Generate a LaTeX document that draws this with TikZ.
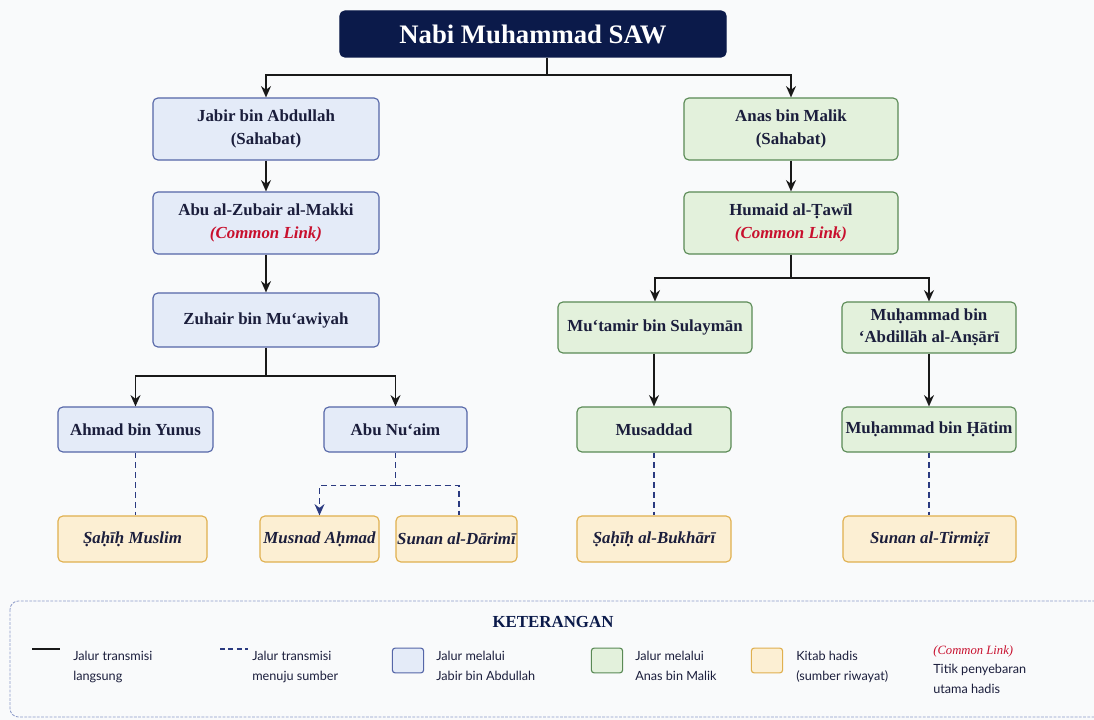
\documentclass[tikz,border=0pt]{standalone}
\usepackage{fontspec}
\setmainfont{Liberation Serif}
\newfontfamily\legendfont{Lato}
\usetikzlibrary{positioning,calc,arrows.meta}

\definecolor{pagebg}{HTML}{F9FAFB}
\definecolor{navy}{HTML}{0B1A4A}
\definecolor{inktext}{HTML}{1B1E3C}
\definecolor{clred}{HTML}{C8102E}
\definecolor{blueFill}{HTML}{E4EBF8}
\definecolor{blueLine}{HTML}{5566A8}
\definecolor{greenFill}{HTML}{E3F1DC}
\definecolor{greenLine}{HTML}{5A8A55}
\definecolor{kitabFill}{HTML}{FCEFD3}
\definecolor{kitabLine}{HTML}{E0B04F}
\definecolor{dashLine}{HTML}{2B3A80}
\definecolor{legendLine}{HTML}{8C9AC8}

\newcommand{\cl}{{\color{clred}\itshape (Common Link)}}

\begin{document}
\begin{tikzpicture}[x=0.025cm, y=-0.025cm,
        block/.style={draw, rectangle, rounded corners=3.5pt, align=center, inner sep=0pt,
            line width=0.8pt, text=inktext, font=\bfseries\fontsize{12}{16}\selectfont},
        jalurA/.style={block, fill=blueFill, draw=blueLine},
        jalurB/.style={block, fill=greenFill, draw=greenLine},
        kitab/.style={block, fill=kitabFill, draw=kitabLine, font=\bfseries\itshape\fontsize{12}{16}\selectfont},
        direct/.style={->, line width=1.35pt, black!90},
        source/.style={line width=1.3pt, dashLine, dash pattern=on 4.2pt off 2.8pt},
        legendtext/.style={anchor=north west, align=left, inner sep=0pt, text=inktext,
            font=\legendfont\fontsize{9}{14.2}\selectfont},
        swatch/.style={draw, rounded corners=2pt, line width=0.8pt, minimum width=0.78cm, minimum height=0.62cm, inner sep=0pt},
        >={Stealth[length=8pt,width=7pt]}
    ]
        \fill [pagebg] (0,0) rectangle (1094,720);
        \useasboundingbox (0,0) rectangle (1094,720);

        % top
        \node [block, fill=navy, draw=navy, text=white, minimum width=9.65cm, minimum height=1.15cm,
            font=\bfseries\fontsize{19}{22}\selectfont] (nabi) at (533,34) {Nabi Muhammad SAW};

        % jalur Jabir
        \node [jalurA, minimum width=5.65cm, minimum height=1.55cm] (jabir) at (266,129) {Jabir bin Abdullah\\(Sahabat)};
        \node [jalurA, minimum width=5.65cm, minimum height=1.55cm] (zubair) at (266,223) {Abu al-Zubair al-Makki\\\cl};
        \node [jalurA, minimum width=5.65cm, minimum height=1.35cm] (zuhair) at (266,320) {Zuhair bin Mu‘awiyah};
        \node [jalurA, minimum width=3.875cm, minimum height=1.125cm] (yunus) at (135.5,429.5) {Ahmad bin Yunus};
        \node [jalurA, minimum width=3.575cm, minimum height=1.125cm] (nuaim) at (395.5,429.5) {Abu Nu‘aim};

        % jalur Anas
        \node [jalurB, minimum width=5.35cm, minimum height=1.55cm] (anas) at (791,129) {Anas bin Malik\\(Sahabat)};
        \node [jalurB, minimum width=5.35cm, minimum height=1.55cm] (humaid) at (791,223) {Humaid al-Ṭawīl\\\cl};
        \node [jalurB, minimum width=4.85cm, minimum height=1.275cm] (mutamir) at (655,327.5) {Mu‘tamir bin Sulaymān};
        \node [jalurB, minimum width=4.35cm, minimum height=1.275cm] (ansari) at (929,327.5) {Muḥammad bin\\‘Abdillāh al-Anṣārī};
        \node [jalurB, minimum width=3.85cm, minimum height=1.125cm] (musaddad) at (654,429.5) {Musaddad};
        \node [jalurB, minimum width=4.35cm, minimum height=1.125cm] (hatim) at (929,429.5) {Muḥammad bin Ḥātim};

        % kitab hadis
        \node [kitab, minimum width=3.725cm, minimum height=1.15cm] (muslim) at (132.5,539) {Ṣaḥīḥ Muslim};
        \node [kitab, minimum width=2.975cm, minimum height=1.15cm] (musnad) at (319.5,539) {Musnad Aḥmad};
        \node [kitab, minimum width=3.025cm, minimum height=1.15cm] (darimi) at (456.5,539) {Sunan al-Dārimī};
        \node [kitab, minimum width=3.85cm, minimum height=1.15cm] (bukhari) at (654,539) {Ṣaḥīḥ al-Bukhārī};
        \node [kitab, minimum width=4.325cm, minimum height=1.15cm] (tirmizi) at (929.5,539) {Sunan al-Tirmiẓī};

        \draw [direct] ($(nabi.south)+(14,0)$) -- ++(0,17) coordinate (split) -| (jabir.north);
        \draw [direct] (split) -| (anas.north);
        \draw [direct] (jabir) -- (zubair);
        \draw [direct] (zubair) -- (zuhair);
        \draw [direct] (zuhair.south) -- ++(0,28) coordinate (splitA) -| (yunus.north);
        \draw [direct] (splitA) -| (nuaim.north);
        \draw [direct] (anas) -- (humaid);
        \draw [direct] (humaid.south) -- ++(0,23) coordinate (splitB) -| (mutamir.north);
        \draw [direct] (splitB) -| (ansari.north);
        \draw [direct] (mutamir.south -| musaddad.north) -- (musaddad.north);
        \draw [direct] (ansari) -- (hatim);

        \draw [source] (yunus.south) -- (muslim.north -| yunus.south);
        \draw [source] (nuaim.south) -- ++(0,33) coordinate (splitC);
        \draw [source, ->] (splitC) -| (musnad.north);
        \draw [source] (splitC) -| ($(darimi.north)+(2.5,0)$);
        \draw [source] (musaddad) -- (bukhari);
        \draw [source] (hatim.south) -- (tirmizi.north -| hatim.south);

        % keterangan
        \draw [legendLine, line width=0.6pt, dash pattern=on 2pt off 1pt, rounded corners=6pt] (10,601) rectangle (1115,717);
        \node [text=navy, font=\bfseries\fontsize{12}{14}\selectfont] (ket) at (553,622) {KETERANGAN};

        \coordinate (solidA) at (32,649);
        \coordinate (solidB) at (60,649);
        \draw [line width=1.3pt, black!90] (solidA) -- (solidB);
        \node [legendtext] (ketA) at (73,651) {Jalur transmisi\\langsung};

        \coordinate (dashA) at (220,649);
        \coordinate (dashB) at (248,649);
        \draw [source, dash pattern=on 3.5pt off 2.5pt] (dashA) -- (dashB);
        \node [legendtext] (ketB) at (252,651) {Jalur transmisi\\menuju sumber};

        \node [swatch, fill=blueFill, draw=blueLine] (swA) at (408,660.5) {};
        \node [legendtext] (ketC) at (436,651) {Jalur melalui\\Jabir bin Abdullah};

        \node [swatch, fill=greenFill, draw=greenLine] (swB) at (607,660.5) {};
        \node [legendtext] (ketD) at (635,651) {Jalur melalui\\Anas bin Malik};

        \node [swatch, fill=kitabFill, draw=kitabLine] (swC) at (767,660.5) {};
        \node [legendtext] (ketE) at (796,651) {Kitab hadis\\(sumber riwayat)};

        \node [legendtext, font=\legendfont\fontsize{9}{13.9}\selectfont] (ketF) at (933,645)
            {{\color{clred}\rmfamily\itshape (Common Link)}\\Titik penyebaran\\utama hadis};

    \end{tikzpicture}
\end{document}
